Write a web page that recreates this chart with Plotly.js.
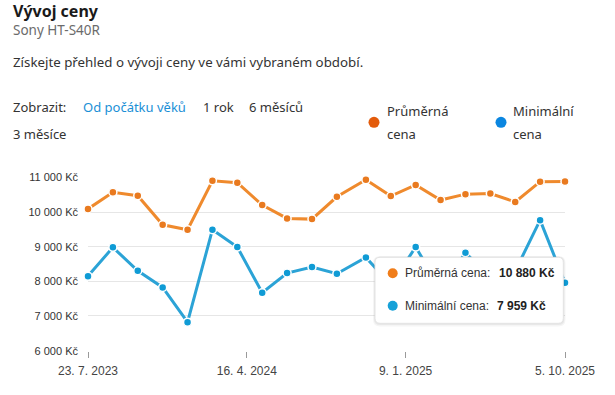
<!DOCTYPE html>
<html>
<head>
<meta charset="utf-8">
<script src="https://cdn.plot.ly/plotly-3.0.1.min.js"></script>
<style>
  html, body { margin: 0; padding: 0; background: #ffffff; }
  #chart { width: 615px; height: 395px; }
</style>
</head>
<body>
<div id="chart"></div>
<script>
// ---- data ----
const dates = [
  '2023-07-23','2023-09-03','2023-10-15','2023-11-26','2024-01-07',
  '2024-02-18','2024-03-31','2024-05-12','2024-06-23','2024-08-04',
  '2024-09-15','2024-11-03','2024-12-15','2025-01-26','2025-03-09',
  '2025-04-20','2025-06-01','2025-07-13','2025-08-24','2025-10-05'
];
const avgPrice = [
  10090, 10570, 10470, 9630, 9490,
  10900, 10845, 10200, 9815, 9795,
  10440, 10930, 10460, 10780, 10345,
  10515, 10535, 10290, 10875, 10880
];
const minPrice = [
  8150, 8980, 8305, 7825, 6820,
  9490, 8990, 7670, 8240, 8415,
  8220, 8690, 7900, 8990, 7780,
  8825, 8100, 8300, 9765, 7959
];
const seriesNames = ['Průměrná cena', 'Minimální cena'];
const xTickVals = ['2023-07-23', '2024-04-16', '2025-01-09', '2025-10-05'];
const xTickText = ['23. 7. 2023', '16. 4. 2024', '9. 1. 2025', '5. 10. 2025'];
const yTickVals = [6000, 7000, 8000, 9000, 10000, 11000];
const yTickText = ['6 000 Kč', '7 000 Kč', '8 000 Kč', '9 000 Kč', '10 000 Kč', '11 000 Kč'];
const rangeLinks = ['Od počátku věků', '1 rok', '6 měsíců', '3 měsíce'];
const tipValues = ['10 880 Kč', '7 959 Kč'];

// ---- layout helpers (pixel -> paper) ----
const M = { l: 88, r: 50, t: 177, b: 44 };
const PW = 615 - M.l - M.r, PH = 395 - M.t - M.b;
const fx = p => (p - M.l) / PW;
const fy = p => (395 - M.b - p) / PH;

function ann(text, x, y, size, color, family, extra) {
  return Object.assign({
    text: text, xref: 'paper', yref: 'paper', x: fx(x - 2.5), y: fy(y),
    xanchor: 'left', yanchor: 'middle', showarrow: false,
    font: { family: family || 'Noto Sans, sans-serif', size: size, color: color }
  }, extra || {});
}
function circle(cx, cy, r, color) {
  return { type: 'circle', xref: 'paper', yref: 'paper', layer: 'above',
    x0: fx(cx - r), x1: fx(cx + r), y0: fy(cy + r), y1: fy(cy - r),
    fillcolor: color, line: { width: 0 } };
}
function roundRect(x0, y0, x1, y1, r, fill, lineColor) {
  const P = (x, y) => fx(x) + ',' + fy(y);
  const d = 'M' + P(x0 + r, y0) + ' L' + P(x1 - r, y0) + ' Q' + P(x1, y0) + ' ' + P(x1, y0 + r) +
    ' L' + P(x1, y1 - r) + ' Q' + P(x1, y1) + ' ' + P(x1 - r, y1) +
    ' L' + P(x0 + r, y1) + ' Q' + P(x0, y1) + ' ' + P(x0, y1 - r) +
    ' L' + P(x0, y0 + r) + ' Q' + P(x0, y0) + ' ' + P(x0 + r, y0) + ' Z';
  return { type: 'path', xref: 'paper', yref: 'paper', layer: 'above', path: d,
    fillcolor: fill, line: lineColor ? { color: lineColor, width: 1 } : { width: 0 } };
}

const traces = [
  {
    x: dates, y: avgPrice, name: seriesNames[0], type: 'scatter', mode: 'lines+markers',
    line: { color: '#ef8a2d', width: 3 },
    marker: { color: '#e97a1f', size: 8, line: { color: '#ffffff', width: 1.5 } },
    cliponaxis: false, hoverinfo: 'skip'
  },
  {
    x: dates, y: minPrice, name: seriesNames[1], type: 'scatter', mode: 'lines+markers',
    line: { color: '#2ba3d6', width: 3 },
    marker: { color: '#0f9bd5', size: 8, line: { color: '#ffffff', width: 1.5 } },
    cliponaxis: false, hoverinfo: 'skip'
  }
];

const txt = '#333333';
const annotations = [
  ann('<b>Vývoj ceny</b>', 13, 10.5, 16, '#1a1a1a'),
  ann('Sony HT-S40R', 13, 30, 13.5, '#6b6b6b'),
  ann('Získejte přehled o vývoji ceny ve vámi vybraném období.', 13, 62, 13.3, txt),
  ann('Zobrazit:', 13, 107, 13, txt),
  ann(rangeLinks[0], 83, 107, 13, '#1a8fd6'),
  ann(rangeLinks[1], 203, 107, 13, txt),
  ann(rangeLinks[2], 249, 107, 13, txt),
  ann(rangeLinks[3], 13, 134, 13, txt),
  ann('Průměrná', 387, 110.5, 13, txt),
  ann('cena', 387, 133.5, 13, txt),
  ann('Minimální', 513, 110.5, 13, txt),
  ann('cena', 513, 133.5, 13, txt),
  ann(seriesNames[0] + ':', 405, 273.3, 12, txt, 'Arial, Liberation Sans, sans-serif'),
  ann('<b>' + tipValues[0] + '</b>', 499.3, 273.3, 12, '#222222', 'Arial, Liberation Sans, sans-serif'),
  ann(seriesNames[1] + ':', 405, 305.7, 12, txt, 'Arial, Liberation Sans, sans-serif'),
  ann('<b>' + tipValues[1] + '</b>', 497.3, 305.7, 12, '#222222', 'Arial, Liberation Sans, sans-serif')
];

const shapes = [
  circle(374, 122.3, 5.5, '#e35b0b'),
  circle(501, 122.3, 5.5, '#0b86e0'),
  roundRect(373, 256, 565.5, 326.5, 7, 'rgba(0,0,0,0.04)'),
  roundRect(374, 256.5, 564.5, 325, 6, 'rgba(0,0,0,0.05)'),
  roundRect(375, 257.3, 563.3, 323.3, 5, '#ffffff', '#e3e3e3'),
  circle(392.7, 273.3, 5, '#f07d1a'),
  circle(392.7, 305.7, 5, '#16a1d8')
];

const layout = {
  width: 615, height: 395,
  margin: M,
  paper_bgcolor: '#ffffff', plot_bgcolor: '#ffffff',
  showlegend: false,
  font: { family: 'Arial, Liberation Sans, sans-serif', color: '#444' },
  xaxis: {
    type: 'date', range: [dates[0], dates[dates.length - 1]],
    tickvals: xTickVals, ticktext: xTickText,
    showgrid: false, zeroline: false, showline: false,
    ticks: 'outside', ticklen: 6, tickwidth: 1, tickcolor: '#9a9a9a',
    ticklabelstandoff: 3,
    tickfont: { size: 12, color: '#444444' }
  },
  yaxis: {
    range: [5990, 11010],
    tickvals: yTickVals, ticktext: yTickText,
    showgrid: true, gridcolor: '#e6e6e6', gridwidth: 1,
    zeroline: false, showline: false,
    ticklabelstandoff: 9,
    tickfont: { size: 11, color: '#333333' }
  },
  annotations: annotations,
  shapes: shapes
};

Plotly.newPlot('chart', traces, layout, { displayModeBar: false, staticPlot: true });
</script>
</body>
</html>
